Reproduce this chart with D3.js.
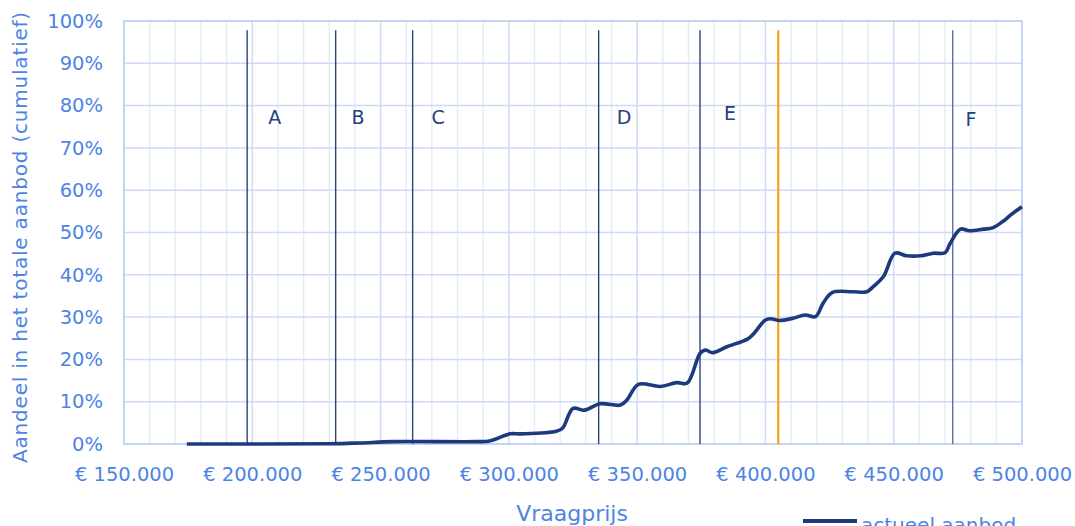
<!DOCTYPE html>
<html>
<head>
<meta charset="utf-8">
<script src="https://cdn.jsdelivr.net/npm/d3@7"></script>
<style>
  body { margin: 0; background: #fff; }
  svg text { font-family: "DejaVu Sans", sans-serif; }
</style>
</head>
<body>
<div id="chart"></div>
<script>
// asking price (euro) and cumulative share of supply (%)
const prices = [174500, 230000, 242000, 255000, 287500, 292500, 300500, 304500, 318500, 321000,
  325000, 329500, 335500, 343500, 346000, 350500, 359000, 365500, 369500, 374500,
  376500, 379500, 385000, 393000, 395000, 400000, 402000, 405500, 410500, 415500,
  419500, 422500, 426000, 434000, 439500, 442000, 446000, 450500, 455000, 460500,
  465500, 470000, 472000, 476000, 479500, 485000, 488500, 492500, 495500, 500000];
const shares = [0, 0.05, 0.25, 0.55, 0.55, 0.7, 2.4, 2.4, 3.0, 3.8,
  8.4, 8.0, 9.5, 9.2, 10.4, 14.1, 13.6, 14.5, 14.4, 21.4,
  22.2, 21.6, 23.0, 24.8, 25.8, 29.3, 29.6, 29.2, 29.7, 30.5,
  30.1, 33.3, 35.8, 36.0, 36.0, 37.2, 39.6, 45.1, 44.5, 44.5,
  45.1, 45.2, 47.4, 50.8, 50.4, 50.8, 51.1, 52.6, 54.1, 56.1];

// segment boundaries A-F and the orange reference line
const segNames = ["A", "B", "C", "D", "E", "F"];
const segPrices = [198000, 232500, 262500, 335000, 374500, 473000];
const segLabelPrices = [208800, 241200, 272400, 344900, 386200, 480100];
const segLabelShares = [77.3, 77.3, 77.3, 77.3, 78.3, 76.8];
const refPrice = 405000;
const lineTop = 97.8;

const xTicks = [150000, 200000, 250000, 300000, 350000, 400000, 450000, 500000];
const yTicks = [0, 10, 20, 30, 40, 50, 60, 70, 80, 90, 100];

const W = 1075, H = 526;
const margin = {top: 21, right: 53, bottom: 82, left: 124};
const width = W - margin.left - margin.right,
      height = H - margin.top - margin.bottom;

const svg = d3.select("#chart").append("svg")
  .attr("width", W).attr("height", H);
const g = svg.append("g")
  .attr("transform", `translate(${margin.left},${margin.top})`);

const x = d3.scaleLinear().domain([150000, 500000]).range([0, width]);
const y = d3.scaleLinear().domain([0, 100]).range([height, 0]);

const axisColor = "#4d84e4";
const fmt = v => "€ " + d3.format(",")(v).replace(/,/g, ".");

// minor vertical gridlines every 10k
g.append("g").selectAll("line")
  .data(d3.range(160000, 500000, 10000).filter(v => v % 50000 !== 0))
  .join("line")
  .attr("x1", d => x(d)).attr("x2", d => x(d))
  .attr("y1", 0).attr("y2", height)
  .attr("stroke", "#e4ecfc").attr("stroke-width", 1.5);

// major vertical gridlines
g.append("g").selectAll("line")
  .data(xTicks)
  .join("line")
  .attr("x1", d => x(d)).attr("x2", d => x(d))
  .attr("y1", 0).attr("y2", height)
  .attr("stroke", "#cddbf6").attr("stroke-width", 1.5);

// horizontal gridlines
g.append("g").selectAll("line")
  .data(yTicks)
  .join("line")
  .attr("x1", 0).attr("x2", width)
  .attr("y1", d => y(d)).attr("y2", d => y(d))
  .attr("stroke", "#cddbf6").attr("stroke-width", 1.5);

// plot frame
g.append("rect")
  .attr("width", width).attr("height", height)
  .attr("fill", "none").attr("stroke", "#bccef2").attr("stroke-width", 1.5);

// axes (labels only)
const xAxis = g.append("g")
  .attr("transform", `translate(0,${height})`)
  .call(d3.axisBottom(x).tickValues(xTicks).tickFormat(fmt).tickSize(0).tickPadding(23));
const yAxis = g.append("g")
  .call(d3.axisLeft(y).tickValues(yTicks).tickFormat(d => d + "%").tickSize(0).tickPadding(21));
[xAxis, yAxis].forEach(a => {
  a.select(".domain").remove();
  a.selectAll("text")
    .style("font-family", "'DejaVu Sans', sans-serif")
    .style("font-size", "19.5px")
    .attr("fill", axisColor);
});

// segment lines
g.append("g").selectAll("line")
  .data(segPrices)
  .join("line")
  .attr("x1", d => x(d)).attr("x2", d => x(d))
  .attr("y1", y(lineTop)).attr("y2", height)
  .attr("stroke", (d, i) => i === 5 ? "#5d70a0" : "#2a437e")
  .attr("stroke-width", 1.4);

g.append("g").selectAll("text")
  .data(segNames)
  .join("text")
  .attr("x", (d, i) => x(segLabelPrices[i]))
  .attr("y", (d, i) => y(segLabelShares[i]))
  .attr("text-anchor", "middle")
  .attr("dominant-baseline", "central")
  .attr("fill", "#23417f")
  .style("font-size", "19px")
  .text(d => d);

// reference line
g.append("line")
  .attr("x1", x(refPrice)).attr("x2", x(refPrice))
  .attr("y1", y(lineTop)).attr("y2", height)
  .attr("stroke", "#f6a11c").attr("stroke-width", 2.2);

// supply curve
const line = d3.line()
  .x((d, i) => x(prices[i]))
  .y(d => y(d))
  .curve(d3.curveCatmullRom.alpha(0.5));
g.append("path")
  .datum(shares)
  .attr("d", line)
  .attr("fill", "none")
  .attr("stroke", "#1d3a7c")
  .attr("stroke-width", 3.6)
  .attr("stroke-linejoin", "round");

// axis titles
svg.append("text")
  .attr("x", 572).attr("y", 521)
  .attr("text-anchor", "middle")
  .attr("fill", axisColor)
  .style("font-size", "22px")
  .text("Vraagprijs");

svg.append("text")
  .attr("transform", "translate(27,237) rotate(-90)")
  .attr("text-anchor", "middle")
  .attr("fill", axisColor)
  .style("font-size", "20px")
  .style("letter-spacing", "0.8px")
  .text("Aandeel in het totale aanbod (cumulatief)");

// legend
svg.append("line")
  .attr("x1", 803).attr("x2", 857)
  .attr("y1", 521).attr("y2", 521)
  .attr("stroke", "#1d3a7c").attr("stroke-width", 4);
svg.append("text")
  .attr("x", 861).attr("y", 532)
  .attr("fill", axisColor)
  .style("font-size", "20px")
  .text("actueel aanbod");
</script>
</body>
</html>
